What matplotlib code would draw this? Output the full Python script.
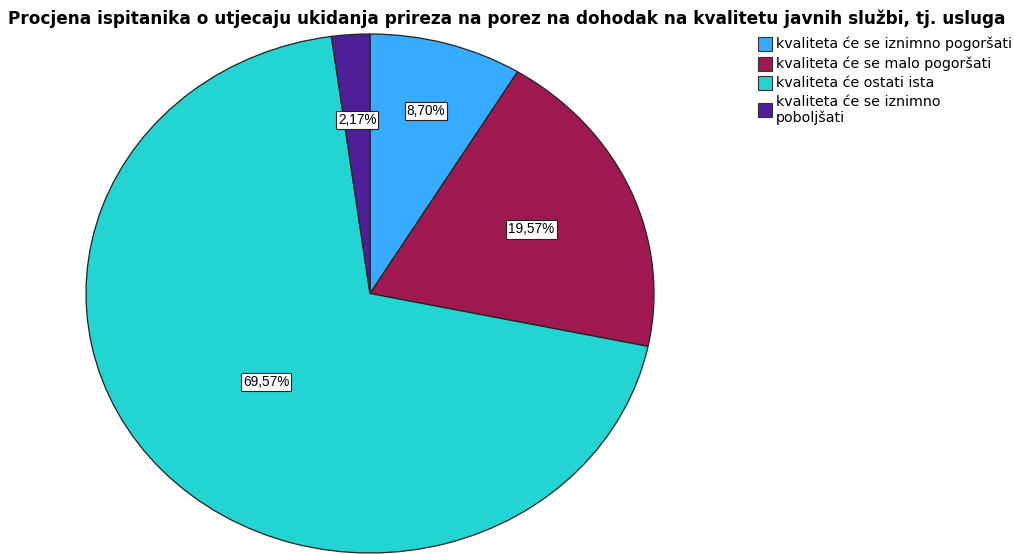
import matplotlib.pyplot as plt
import matplotlib.patches as mpatches
import numpy as np

plt.rcParams['font.family'] = ['DejaVu Sans']

title = "Procjena ispitanika o utjecaju ukidanja prireza na porez na dohodak na kvalitetu javnih službi, tj. usluga"
categories = ["kvaliteta će se iznimno pogoršati",
              "kvaliteta će se malo pogoršati",
              "kvaliteta će ostati ista",
              "kvaliteta će se iznimno\npoboljšati"]
percents = [8.70, 19.57, 69.57, 2.17]
colors = ["#36abff", "#a01850", "#22d4d2", "#4e1f98"]
label_dist = [0.73, 0.62, 0.50, 0.67]

W, H = 1014, 554
fig = plt.figure(figsize=(W / 100, H / 100), dpi=100)

# pie stretched slightly, as an ellipse
ax = fig.add_axes([86 / W, 1 / H, 568 / W, 519 / H])
wedges, _ = ax.pie(percents, colors=colors, startangle=90, counterclock=False,
                   wedgeprops=dict(edgecolor="#222222", linewidth=0.9))
ax.set_aspect('auto')
ax.set_xlim(-1, 1)
ax.set_ylim(-1, 1)
ax.axis('off')

start = 0.0
for p, d in zip(percents, label_dist):
    mid = np.deg2rad(90 - (start + p / 2) * 3.6)
    start += p
    ax.text(d * np.cos(mid), d * np.sin(mid), f"{p:.2f}%".replace('.', ','),
            ha='center', va='center', fontsize=9.8, family='Liberation Sans',
            bbox=dict(boxstyle='square,pad=0.15', fc='white', ec='#222222', lw=0.8))

fig.text(0.5, 1 - 19 / H, title, ha='center', va='center',
         fontsize=12.2, fontweight='bold')

# legend drawn by hand
rows_y = [44, 64, 83, 110]
for y, c, name in zip(rows_y, colors, categories):
    fig.patches.append(mpatches.Rectangle((758 / W, 1 - (y + 7) / H), 14 / W, 14 / H,
                                          transform=fig.transFigure, fc=c,
                                          ec='#333333', lw=0.8))
    fig.text(776 / W, 1 - y / H, name, ha='left', va='center', fontsize=10.3,
             linespacing=1.05)

fig.savefig("out.png", dpi=100)
